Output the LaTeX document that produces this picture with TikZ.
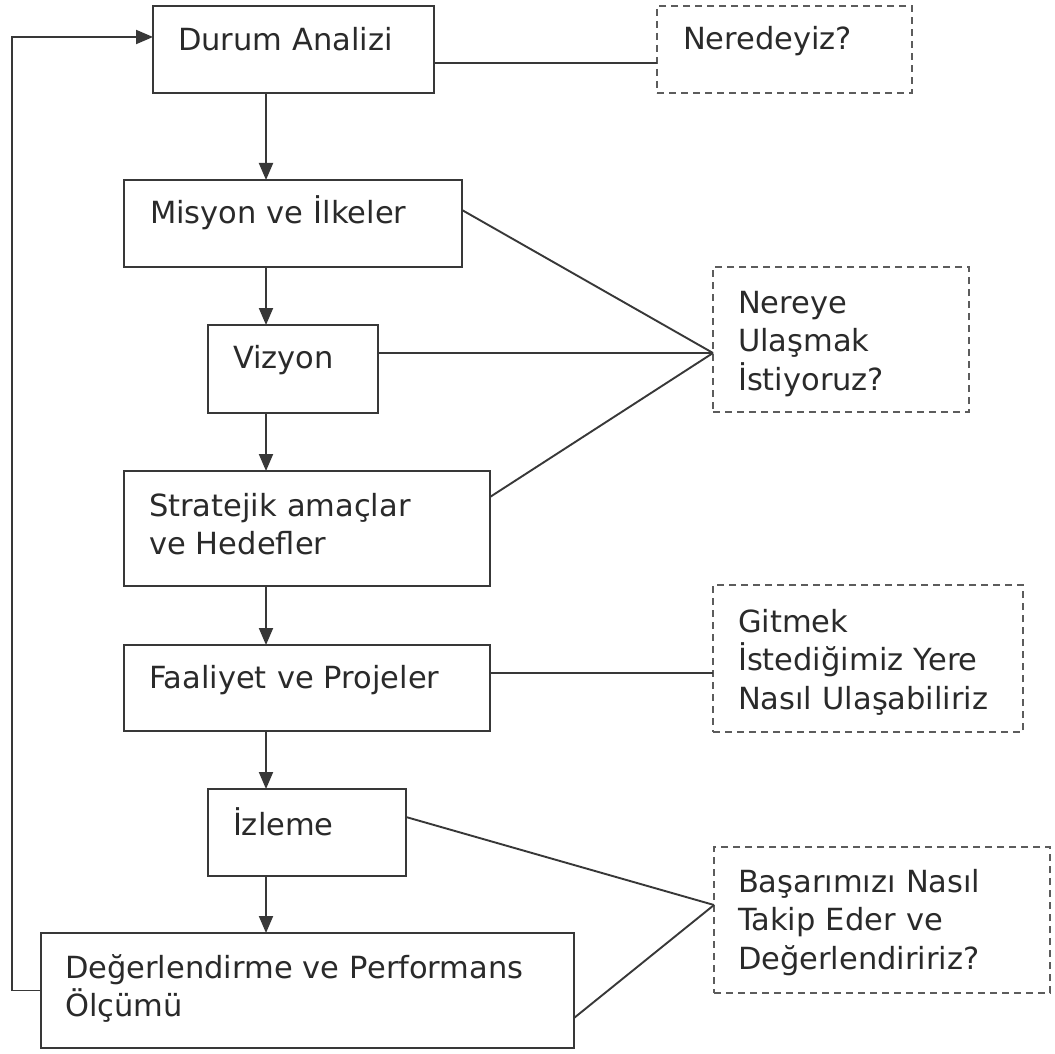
\documentclass[tikz,border=0pt]{standalone}
\usepackage{fontspec}
\setmainfont{DejaVu Sans}
\usetikzlibrary{arrows.meta,calc}
\definecolor{ln}{HTML}{383838}
\definecolor{tx}{HTML}{2A2A2A}
\definecolor{dsh}{HTML}{5C5C5C}
\tikzset{
  box/.style={draw=ln, line width=2.1pt, inner sep=0pt, outer sep=0pt, anchor=north west, fill=white},
  qbox/.style={draw=dsh, line width=2pt, dash pattern=on 7pt off 5pt, inner sep=0pt, outer sep=0pt, anchor=north west},
  txt/.style={font=\fontsize{30.5}{38.5}\selectfont, text=tx, anchor=base west, inner sep=0pt, outer sep=0pt, align=left, text width=520pt},
  conn/.style={draw=ln, line width=1.9pt},
  arr/.style={draw=ln, line width=1.9pt, -{Triangle[width=14pt,length=17pt]}}
}
\begin{document}
\begin{tikzpicture}[x=1pt,y=-1pt]
\useasboundingbox (0,0) rectangle (1055,1054);
% boxes
\node[box, minimum width=281, minimum height=87] (durum) at (153,6) {};
\node[qbox, minimum width=255, minimum height=87] (ner) at (657,6) {};
\node[box, minimum width=338, minimum height=87] (misyon) at (124,180) {};
\node[qbox, minimum width=256, minimum height=145] (nereye) at (713,267) {};
\node[box, minimum width=170, minimum height=88] (vizyon) at (208,325) {};
\node[box, minimum width=366, minimum height=115] (strat) at (124,471) {};
\node[box, minimum width=366, minimum height=86] (faal) at (124,645) {};
\node[qbox, minimum width=310, minimum height=147] (gitmek) at (713,585) {};
\node[box, minimum width=198, minimum height=87] (izleme) at (208,789) {};
\node[qbox, minimum width=336, minimum height=146] (basar) at (714,847) {};
\node[box, minimum width=533, minimum height=115] (deger) at (41,933) {};
% texts
\node[txt] (tdurum) at (178,51) {Durum Analizi};
\node[txt] (tner) at (683,50) {Neredeyiz?};
\node[txt] (tmisyon) at (150,223) {Misyon ve İlkeler};
\node[txt] (tnereye) at (738,313) {Nereye\\Ulaşmak\\İstiyoruz?};
\node[txt] (tvizyon) at (233,368) {Vizyon};
\node[txt] (tstrat) at (149,516) {Stratejik amaçlar\\ve Hedefler};
\node[txt] (tfaal) at (149,688) {Faaliyet ve Projeler};
\node[txt] (tgitmek) at (738,632) {Gitmek\\İstediğimiz Yere\\Nasıl Ulaşabiliriz};
\node[txt] (tizleme) at (233,835) {İzleme};
\node[txt] (tbasar) at (738,892) {Başarımızı Nasıl\\Takip Eder ve\\Değerlendiririz?};
\node[txt] (tdeger) at (65,978) {Değerlendirme ve Performans\\Ölçümü};
% helper coordinates
\coordinate (ax) at (266,0);
\coordinate (fb) at (12,37);
\coordinate (cB) at ($(nereye.north west)+(0,86)$);
\coordinate (cD) at ($(basar.north west)+(0,58)$);
% vertical flow arrows
\draw[arr] (durum.south -| ax) -- (misyon.north -| ax);
\draw[arr] (misyon.south -| ax) -- (vizyon.north -| ax);
\draw[arr] (vizyon.south -| ax) -- (strat.north -| ax);
\draw[arr] (strat.south -| ax) -- (faal.north -| ax);
\draw[arr] (faal.south -| ax) -- (izleme.north -| ax);
\draw[arr] (izleme.south -| ax) -- (deger.north -| ax);
% feedback loop
\draw[arr] (deger.west) -| (fb) -- (fb -| durum.west);
% question connectors
\draw[conn] ($(durum.north east)+(0,57)$) -- ($(ner.north west)+(0,57)$);
\draw[conn] ($(misyon.north east)+(0,30)$) -- (cB);
\draw[conn] (vizyon.east |- cB) -- (cB);
\draw[conn] ($(strat.north east)+(0,26)$) -- (cB);
\draw[conn] ($(faal.north east)+(0,28)$) -- ($(gitmek.north west)+(0,88)$);
\draw[conn] ($(izleme.north east)+(0,28)$) -- (cD);
\draw[conn] ($(deger.north east)+(0,85)$) -- (cD);
\end{tikzpicture}
\end{document}
